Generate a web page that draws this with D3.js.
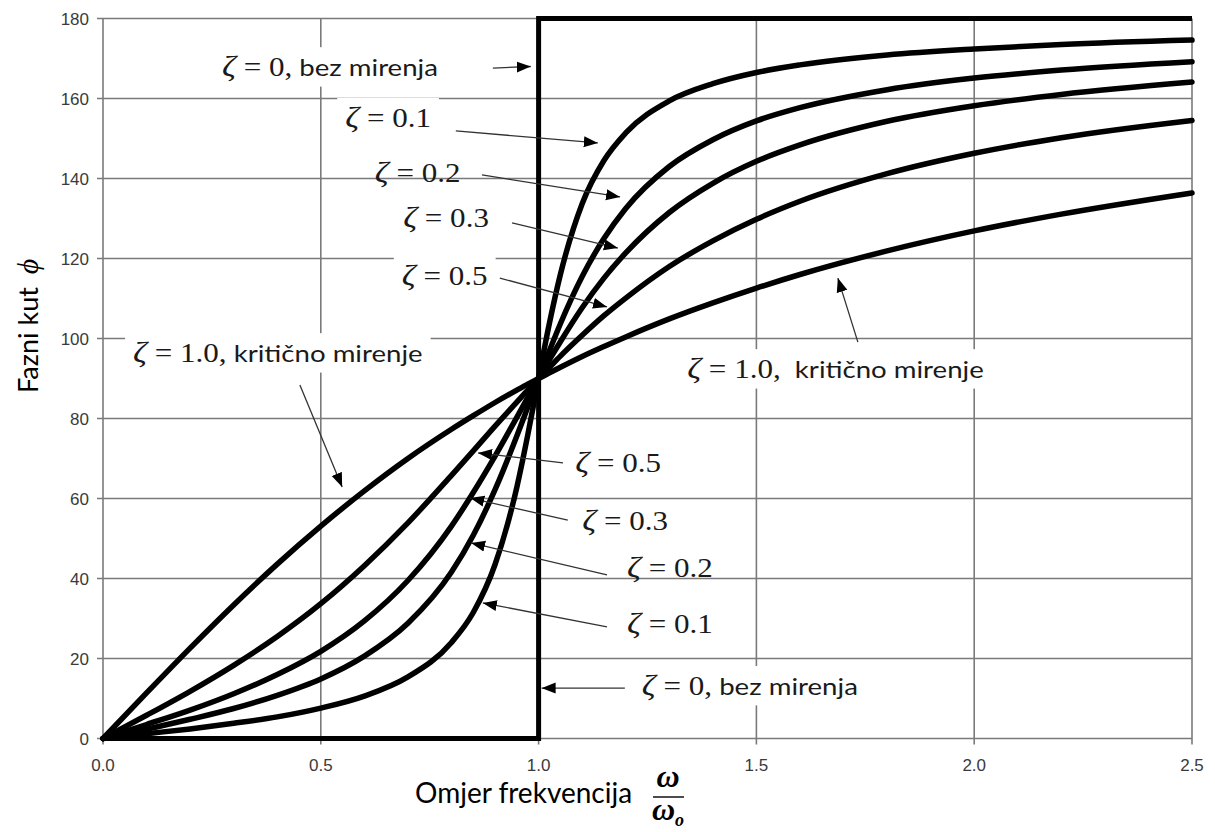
<!DOCTYPE html>
<html>
<head>
<meta charset="utf-8">
<script src="https://cdn.jsdelivr.net/npm/d3@7"></script>
<style>
    body { margin: 0; background: #fff; }
    .tick-label { font-family: "Liberation Sans", Arial, sans-serif; font-size: 17px; fill: #3a3a3a; }
</style>
</head>
<body>
<svg id="phaseChart" width="1215" height="832"></svg>
<script>
// frequency ratio w/w0 and phase angle (deg)
var ratio  = [0, 0.1, 0.2, 0.3, 0.4, 0.5, 0.6, 0.7, 0.8, 0.85, 0.9, 0.95, 0.975, 1.0, 1.025, 1.05, 1.1, 1.15, 1.2, 1.3, 1.4, 1.5, 1.6, 1.8, 2.0, 2.2, 2.5];
var zeta01 = [0, 1.2, 2.4, 3.8, 5.4, 7.6, 10.6, 15.4, 24.0, 31.5, 43.5, 62.8, 75.8, 90, 103.9, 116.0, 133.7, 144.5, 151.4, 159.4, 163.7, 166.5, 168.4, 170.9, 172.4, 173.5, 174.6];
var zeta02 = [0, 2.3, 4.8, 7.5, 10.8, 14.9, 20.6, 28.8, 41.6, 50.8, 62.2, 75.6, 82.8, 90, 97.0, 103.7, 115.5, 125.0, 132.5, 143.0, 149.7, 154.4, 157.7, 162.2, 165.1, 167.1, 169.2];
var zeta03 = [0, 3.5, 7.1, 11.2, 16.0, 21.8, 29.4, 39.5, 53.1, 61.5, 70.6, 80.3, 85.2, 90, 94.7, 99.2, 107.7, 115.1, 121.4, 131.5, 138.8, 144.3, 148.4, 154.3, 158.2, 161.0, 164.1];
var zeta05 = [0, 5.8, 11.8, 18.3, 25.5, 33.7, 43.2, 53.9, 65.8, 71.9, 78.1, 84.1, 87.1, 90, 92.8, 95.6, 100.8, 105.7, 110.1, 118.0, 124.4, 129.8, 134.3, 141.2, 146.3, 150.2, 154.5];
var zeta10 = [0, 11.4, 22.6, 33.4, 43.6, 53.1, 61.9, 70.0, 77.3, 80.7, 84.0, 87.1, 88.6, 90, 91.4, 92.8, 95.5, 98.0, 100.4, 104.9, 108.9, 112.6, 116.0, 121.9, 126.9, 131.1, 136.4];
var zeta0Ratio = [0, 1, 1, 2.5];
var zeta0Phase = [0, 0, 180, 180];

var xTicks = [0, 0.5, 1.0, 1.5, 2.0, 2.5];
var xTickLabels = ["0.0", "0.5", "1.0", "1.5", "2.0", "2.5"];
var yTicks = [0, 20, 40, 60, 80, 100, 120, 140, 160, 180];

// annotation labels, anchored in data units
var notes = [
    {value: "0,", tail: " bez mirenja", x: 0.273, y: 165.6, box: true, arrow: [0.895, 167.6, 0.982, 168.0]},
    {value: "0.1", tail: "", x: 0.556, y: 152.9, box: true, arrow: [0.810, 151.9, 1.136, 148.9]},
    {value: "0.2", tail: "", x: 0.624, y: 139.1, box: false, arrow: [0.870, 140.9, 1.187, 135.4]},
    {value: "0.3", tail: "", x: 0.689, y: 127.9, box: true, arrow: [0.939, 128.9, 1.182, 122.6]},
    {value: "0.5", tail: "", x: 0.686, y: 113.4, box: true, arrow: [0.911, 115.1, 1.157, 107.9]},
    {value: "1.0,", tail: " kritično mirenje", x: 0.069, y: 94.1, box: true, arrow: [0.452, 88.4, 0.549, 62.9]},
    {value: "1.0,", tail: "  kritično mirenje", x: 1.341, y: 90.1, box: true, arrow: [1.733, 99.1, 1.687, 115.1]},
    {value: "0.5", tail: "", x: 1.084, y: 66.6, box: true, arrow: [1.056, 68.9, 0.861, 71.4]},
    {value: "0.3", tail: "", x: 1.100, y: 52.1, box: true, arrow: [1.067, 54.6, 0.843, 60.1]},
    {value: "0.2", tail: "", x: 1.203, y: 40.4, box: false, arrow: [1.157, 40.9, 0.845, 48.9]},
    {value: "0.1", tail: "", x: 1.203, y: 26.4, box: true, arrow: [1.157, 27.9, 0.872, 33.9]},
    {value: "0,", tail: " bez mirenja", x: 1.237, y: 10.9, box: true, arrow: [1.198, 12.6, 1.007, 12.6]}
];

(function phaseChart() {

    var svg = d3.select("#phaseChart");

    var x = d3.scaleLinear().domain([0, 2.5]).range([103, 1192]);
    var y = d3.scaleLinear().domain([0, 180]).range([738.5, 18.5]);

    // grid
    var grid = svg.append("g").attr("class", "grid");
    grid.selectAll(".hline")
        .data(yTicks)
        .enter().append("line")
        .attr("x1", x(0) - 6).attr("x2", x(2.5))
        .attr("y1", function (d) { return y(d); })
        .attr("y2", function (d) { return y(d); })
        .attr("stroke", "#7a7a7a")
        .attr("stroke-width", 1.6);

    grid.selectAll(".vline")
        .data(xTicks)
        .enter().append("line")
        .attr("y1", y(180)).attr("y2", y(0) + 6)
        .attr("x1", function (d) { return x(d); })
        .attr("x2", function (d) { return x(d); })
        .attr("stroke", "#7a7a7a")
        .attr("stroke-width", 1.6);

    // tick labels
    svg.append("g").selectAll("text")
        .data(yTicks)
        .enter().append("text")
        .attr("class", "tick-label")
        .attr("x", x(0) - 14)
        .attr("y", function (d) { return y(d) + 6; })
        .attr("text-anchor", "end")
        .text(function (d) { return d; });

    svg.append("g").selectAll("text")
        .data(xTicks)
        .enter().append("text")
        .attr("class", "tick-label")
        .attr("x", function (d) { return x(d); })
        .attr("y", 771)
        .attr("text-anchor", "middle")
        .text(function (d, i) { return xTickLabels[i]; });

    var boxLayer = svg.append("g");

    // curves
    var line = d3.line()
        .x(function (d) { return x(d[0]); })
        .y(function (d) { return y(d[1]); })
        .curve(d3.curveMonotoneX);

    [zeta01, zeta02, zeta03, zeta05, zeta10].forEach(function (series) {
        svg.append("path")
            .datum(d3.zip(ratio, series))
            .attr("d", line)
            .attr("fill", "none")
            .attr("stroke", "#000")
            .attr("stroke-width", 5.5)
            .attr("stroke-linecap", "round");
    });

    svg.append("path")
        .datum(d3.zip(zeta0Ratio, zeta0Phase))
        .attr("d", d3.line()
            .x(function (d) { return x(d[0]); })
            .y(function (d) { return y(d[1]); }))
        .attr("fill", "none")
        .attr("stroke", "#000")
        .attr("stroke-width", 5);

    // arrows
    svg.append("defs").append("marker")
        .attr("id", "head")
        .attr("markerUnits", "userSpaceOnUse")
        .attr("viewBox", "0 -6 14 12")
        .attr("refX", 14).attr("refY", 0)
        .attr("markerWidth", 14).attr("markerHeight", 12)
        .attr("orient", "auto")
        .append("path")
        .attr("d", "M0,-5.5L14,0L0,5.5Z")
        .attr("fill", "#000");

    svg.append("g").selectAll("line")
        .data(notes)
        .enter().append("line")
        .attr("x1", function (d) { return x(d.arrow[0]); })
        .attr("y1", function (d) { return y(d.arrow[1]); })
        .attr("x2", function (d) { return x(d.arrow[2]); })
        .attr("y2", function (d) { return y(d.arrow[3]); })
        .attr("stroke", "#333")
        .attr("stroke-width", 1.3)
        .attr("marker-end", "url(#head)");

    // labels
    notes.forEach(function (n) {
        var t = svg.append("text")
            .attr("transform", "translate(" + x(n.x) + "," + y(n.y) + ") scale(1.15,1)")
            .attr("fill", "#1a1a1a");
        t.append("tspan")
            .style("font-family", "'Liberation Serif', 'Times New Roman', serif")
            .style("font-style", "italic")
            .style("font-size", "30px")
            .text("ζ");
        t.append("tspan")
            .style("font-family", "'Liberation Serif', 'Times New Roman', serif")
            .style("font-size", "27px")
            .text(" = " + n.value);
        if (n.tail) {
            t.append("tspan")
                .style("font-family", "Lato, 'Open Sans', sans-serif")
                .style("font-size", "24px")
                .style("white-space", "pre")
                .attr("xml:space", "preserve")
                .text(n.tail);
        }
        if (n.box) {
            var bb = t.node().getBBox();
            boxLayer.append("rect")
                .attr("x", x(n.x) + bb.x * 1.15 - 8)
                .attr("y", y(n.y) + bb.y - 2)
                .attr("width", bb.width * 1.15 + 16)
                .attr("height", bb.height + 6)
                .attr("fill", "#fff");
        }
    });

    // axis titles
    svg.append("text")
        .attr("x", 415)
        .attr("y", 803)
        .style("font-family", "Lato, 'Open Sans', sans-serif")
        .style("font-size", "28px")
        .attr("fill", "#000")
        .text("Omjer frekvencija");

    var frac = svg.append("g").attr("transform", "translate(668,0)");
    frac.append("text")
        .attr("x", 0).attr("y", 787)
        .attr("text-anchor", "middle")
        .style("font-family", "'Liberation Serif', serif")
        .style("font-style", "italic")
        .style("font-weight", "bold")
        .style("font-size", "32px")
        .text("ω");
    frac.append("line")
        .attr("x1", -15).attr("x2", 16)
        .attr("y1", 797).attr("y2", 797)
        .attr("stroke", "#111").attr("stroke-width", 1.5);
    var den = frac.append("text")
        .attr("x", 0).attr("y", 820)
        .attr("text-anchor", "middle")
        .style("font-family", "'Liberation Serif', serif")
        .style("font-style", "italic")
        .style("font-weight", "bold")
        .style("font-size", "32px");
    den.append("tspan").text("ω");
    den.append("tspan").attr("dy", 6).style("font-size", "18px").text("o");

    var yt = svg.append("text")
        .attr("transform", "translate(38,393) rotate(-90)")
        .attr("fill", "#000");
    yt.append("tspan")
        .style("font-family", "Lato, 'Open Sans', sans-serif")
        .style("font-size", "27px")
        .text("Fazni kut ");
    yt.append("tspan")
        .attr("dx", 6)
        .style("font-family", "'Liberation Serif', serif")
        .style("font-style", "italic")
        .style("font-size", "30px")
        .text("ϕ");

}());
</script>
</body>
</html>
